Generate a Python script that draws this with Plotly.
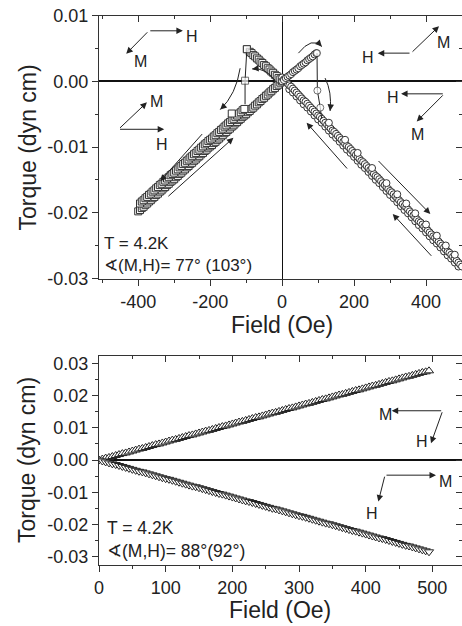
import plotly.graph_objects as go

# ---------------- data: top panel (angle 77 deg) ----------------
# squares: upper-left branch (from switching peak toward origin)
SQ_UPPER_X = [-98, -90, -85, -80, -75, -70, -65, -60, -55, -50, -45, -40, -35, -30, -25, -20, -15, -10, -5, 0]
SQ_UPPER_Y = [0.0049, 0.0045, 0.0043, 0.0040, 0.0038, 0.0035, 0.0033, 0.0030, 0.0028, 0.0025,
              0.0023, 0.0020, 0.0018, 0.0015, 0.0013, 0.0010, 0.0008, 0.0005, 0.0003, 0.0000]
# squares: lower-left band, row 1
SQ_LOW_X = [-400, -395, -390, -385, -380, -375, -370, -365, -360, -355, -350, -345, -340, -335, -330,
            -325, -320, -315, -310, -305, -300, -295, -290, -285, -280, -275, -270, -265, -260, -255,
            -250, -245, -240, -235, -230, -225, -220, -215, -210, -205, -200, -195, -190, -185, -180,
            -175, -170, -165, -160, -155, -150, -145, -140, -135, -130, -125, -120, -115, -110, -105,
            -100, -95, -90, -85, -80, -75, -70, -65, -60, -55, -50, -45, -40, -35, -30, -25, -20, -15,
            -10, -5]
SQ_LOW_Y = [-0.0198, -0.0196, -0.0193, -0.0191, -0.0188, -0.0186, -0.0183, -0.0181, -0.0178, -0.0176,
            -0.0173, -0.0171, -0.0168, -0.0166, -0.0163, -0.0161, -0.0158, -0.0156, -0.0153, -0.0151,
            -0.0149, -0.0146, -0.0144, -0.0141, -0.0139, -0.0136, -0.0134, -0.0131, -0.0129, -0.0126,
            -0.0124, -0.0121, -0.0119, -0.0116, -0.0114, -0.0111, -0.0109, -0.0106, -0.0104, -0.0101,
            -0.0099, -0.0097, -0.0094, -0.0092, -0.0089, -0.0087, -0.0084, -0.0082, -0.0079, -0.0077,
            -0.0074, -0.0072, -0.0069, -0.0067, -0.0064, -0.0062, -0.0059, -0.0057, -0.0054, -0.0052,
            -0.0050, -0.0047, -0.0045, -0.0042, -0.0040, -0.0037, -0.0035, -0.0032, -0.0030, -0.0027,
            -0.0025, -0.0022, -0.0020, -0.0017, -0.0015, -0.0012, -0.0010, -0.0007, -0.0005, -0.0002]
# squares: lower-left band, row 2 (return sweep)
SQ_MID_X = [-395, -390, -385, -380, -375, -370, -365, -360, -355, -350, -345, -340, -335, -330, -325,
            -320, -315, -310, -305, -300, -295, -290, -285, -280, -275, -270, -265, -260, -255, -250,
            -245, -240, -235, -230, -225, -220, -215, -210, -205, -200, -195, -190, -185, -180, -175,
            -170, -165, -160, -155, -150, -145, -140, -135, -130, -125, -120, -115, -110, -105]
SQ_MID_Y = [-0.0186, -0.0183, -0.0181, -0.0178, -0.0176, -0.0173, -0.0171, -0.0168, -0.0166, -0.0163,
            -0.0161, -0.0158, -0.0156, -0.0153, -0.0151, -0.0148, -0.0146, -0.0143, -0.0141, -0.0139,
            -0.0136, -0.0134, -0.0131, -0.0129, -0.0126, -0.0124, -0.0121, -0.0119, -0.0116, -0.0114,
            -0.0111, -0.0109, -0.0106, -0.0104, -0.0101, -0.0099, -0.0096, -0.0094, -0.0091, -0.0089,
            -0.0087, -0.0084, -0.0082, -0.0079, -0.0077, -0.0074, -0.0072, -0.0069, -0.0067, -0.0064,
            -0.0062, -0.0059, -0.0057, -0.0054, -0.0052, -0.0049, -0.0047, -0.0044, -0.0042]
# squares: switching jump and isolated point
SQ_JUMP_X = [-98, -103, -103]
SQ_JUMP_Y = [0.0049, 0.0001, -0.0035]
SQ_EXTRA_X = [-140]
SQ_EXTRA_Y = [-0.0049]

# circles: upper-right short branch
CI_UP_X = [0, 5, 10, 15, 20, 25, 30, 35, 40, 45, 50, 55, 60, 65, 70, 75, 80, 85, 90, 95]
CI_UP_Y = [0.0000, 0.0002, 0.0005, 0.0007, 0.0009, 0.0011, 0.0014, 0.0016, 0.0018, 0.0020,
           0.0023, 0.0025, 0.0027, 0.0029, 0.0032, 0.0034, 0.0036, 0.0038, 0.0041, 0.0043]
# circles: main descending band
CI_MAIN_X = [0, 5, 10, 15, 20, 25, 30, 35, 40, 45, 50, 55, 60, 65, 70, 75, 80, 85, 90, 95, 100,
             105, 110, 115, 120, 125, 130, 135, 140, 145, 150, 155, 160, 165, 170, 175, 180, 185,
             190, 195, 200, 205, 210, 215, 220, 225, 230, 235, 240, 245, 250, 255, 260, 265, 270,
             275, 280, 285, 290, 295, 300, 305, 310, 315, 320, 325, 330, 335, 340, 345, 350, 355,
             360, 365, 370, 375, 380, 385, 390, 395, 400, 405, 410, 415, 420, 425, 430, 435, 440,
             445, 450, 455, 460, 465, 470, 475, 480, 485, 490, 495, 500]
CI_MAIN_Y = [0.0006, 0.0003, 0.0000, -0.0003, -0.0006, -0.0008, -0.0011, -0.0014, -0.0017, -0.0020,
             -0.0023, -0.0026, -0.0029, -0.0031, -0.0034, -0.0037, -0.0040, -0.0043, -0.0046, -0.0049,
             -0.0052, -0.0054, -0.0057, -0.0060, -0.0063, -0.0066, -0.0069, -0.0072, -0.0075, -0.0077,
             -0.0080, -0.0083, -0.0086, -0.0089, -0.0092, -0.0095, -0.0098, -0.0100, -0.0103, -0.0106,
             -0.0109, -0.0112, -0.0115, -0.0118, -0.0121, -0.0123, -0.0126, -0.0129, -0.0132, -0.0135,
             -0.0138, -0.0141, -0.0144, -0.0146, -0.0149, -0.0152, -0.0155, -0.0158, -0.0161, -0.0164,
             -0.0167, -0.0169, -0.0172, -0.0175, -0.0178, -0.0181, -0.0184, -0.0187, -0.0190, -0.0192,
             -0.0195, -0.0198, -0.0201, -0.0204, -0.0207, -0.0210, -0.0213, -0.0215, -0.0218, -0.0221,
             -0.0224, -0.0227, -0.0230, -0.0233, -0.0236, -0.0238, -0.0241, -0.0244, -0.0247, -0.0250,
             -0.0253, -0.0256, -0.0259, -0.0261, -0.0264, -0.0267, -0.0270, -0.0273, -0.0276, -0.0279,
             -0.0282]
# circles: second sweep row, just below the main band
CI_LOW_X = [20, 30, 40, 50, 60, 70, 80, 90, 100, 110, 120, 130, 140, 150, 160, 170, 180, 190, 200,
            210, 220, 230, 240, 250, 260, 270, 280, 290, 300, 310, 320, 330, 340, 350, 360, 370, 380,
            390, 400, 410, 420, 430, 440, 450, 460, 470, 480, 490]
CI_LOW_Y = [-0.0012, -0.0017, -0.0023, -0.0029, -0.0035, -0.0040, -0.0046, -0.0052, -0.0058, -0.0063,
            -0.0069, -0.0075, -0.0081, -0.0086, -0.0092, -0.0098, -0.0104, -0.0109, -0.0115, -0.0121,
            -0.0127, -0.0132, -0.0138, -0.0144, -0.0150, -0.0155, -0.0161, -0.0167, -0.0173, -0.0178,
            -0.0184, -0.0190, -0.0196, -0.0201, -0.0207, -0.0213, -0.0219, -0.0224, -0.0230, -0.0236,
            -0.0242, -0.0247, -0.0253, -0.0259, -0.0265, -0.0270, -0.0276, -0.0282]
# circles: scattered points slightly above the band
CI_OUT_X = [130, 175, 210, 250, 290, 320, 345, 370, 400, 430, 455, 480]
CI_OUT_Y = [-0.0063, -0.0089, -0.0109, -0.0132, -0.0155, -0.0172, -0.0186, -0.0201, -0.0218, -0.0235,
            -0.0250, -0.0264]
# circles: switching jump
CI_JUMP_X = [97, 98, 106, 110]
CI_JUMP_Y = [0.0043, -0.0014, -0.0040, -0.0057]

# ---------------- data: bottom panel (angle 88 deg) ----------------
FIELD_B = list(range(0, 500, 5))
TQ_POS = [0.0000, 0.0003, 0.0006, 0.0008, 0.0011, 0.0014, 0.0017, 0.0020, 0.0022, 0.0025,
          0.0028, 0.0031, 0.0034, 0.0036, 0.0039, 0.0042, 0.0045, 0.0048, 0.0050, 0.0053,
          0.0056, 0.0059, 0.0062, 0.0064, 0.0067, 0.0070, 0.0073, 0.0076, 0.0078, 0.0081,
          0.0084, 0.0087, 0.0090, 0.0092, 0.0095, 0.0098, 0.0101, 0.0104, 0.0106, 0.0109,
          0.0112, 0.0115, 0.0118, 0.0120, 0.0123, 0.0126, 0.0129, 0.0132, 0.0134, 0.0137,
          0.0140, 0.0143, 0.0146, 0.0148, 0.0151, 0.0154, 0.0157, 0.0160, 0.0162, 0.0165,
          0.0168, 0.0171, 0.0174, 0.0176, 0.0179, 0.0182, 0.0185, 0.0188, 0.0190, 0.0193,
          0.0196, 0.0199, 0.0202, 0.0204, 0.0207, 0.0210, 0.0213, 0.0216, 0.0218, 0.0221,
          0.0224, 0.0227, 0.0230, 0.0232, 0.0235, 0.0238, 0.0241, 0.0244, 0.0246, 0.0249,
          0.0252, 0.0255, 0.0258, 0.0260, 0.0263, 0.0266, 0.0269, 0.0272, 0.0274, 0.0277]
TQ_NEG = [0.0000, -0.0003, -0.0006, -0.0009, -0.0012, -0.0014, -0.0017, -0.0020, -0.0023, -0.0026,
          -0.0029, -0.0032, -0.0035, -0.0037, -0.0040, -0.0043, -0.0046, -0.0049, -0.0052, -0.0055,
          -0.0058, -0.0060, -0.0063, -0.0066, -0.0069, -0.0072, -0.0075, -0.0078, -0.0081, -0.0083,
          -0.0086, -0.0089, -0.0092, -0.0095, -0.0098, -0.0101, -0.0104, -0.0106, -0.0109, -0.0112,
          -0.0115, -0.0118, -0.0121, -0.0124, -0.0127, -0.0129, -0.0132, -0.0135, -0.0138, -0.0141,
          -0.0144, -0.0147, -0.0150, -0.0152, -0.0155, -0.0158, -0.0161, -0.0164, -0.0167, -0.0170,
          -0.0173, -0.0175, -0.0178, -0.0181, -0.0184, -0.0187, -0.0190, -0.0193, -0.0196, -0.0198,
          -0.0201, -0.0204, -0.0207, -0.0210, -0.0213, -0.0216, -0.0219, -0.0221, -0.0224, -0.0227,
          -0.0230, -0.0233, -0.0236, -0.0239, -0.0242, -0.0244, -0.0247, -0.0250, -0.0253, -0.0256,
          -0.0259, -0.0262, -0.0265, -0.0267, -0.0270, -0.0273, -0.0276, -0.0279, -0.0282, -0.0285]

# ---------------- tick labels ----------------
TOP_X_TICKS = [-400, -200, 0, 200, 400]
TOP_X_LABELS = ["-400", "-200", "0", "200", "400"]
TOP_Y_TICKS = [-0.03, -0.02, -0.01, 0.0, 0.01]
TOP_Y_LABELS = ["-0.03", "-0.02", "-0.01", "0.00", "0.01"]
BOT_X_TICKS = [0, 100, 200, 300, 400, 500]
BOT_X_LABELS = ["0", "100", "200", "300", "400", "500"]
BOT_Y_TICKS = [-0.03, -0.02, -0.01, 0.0, 0.01, 0.02, 0.03]
BOT_Y_LABELS = ["-0.03", "-0.02", "-0.01", "0.00", "0.01", "0.02", "0.03"]

FONT = "Liberation Sans, Arial, Helvetica, sans-serif"
INK = "#222222"
EDGE = "#333333"

fig = go.Figure()


def band(x, y, symbol, size, xa, ya, edge=EDGE):
    fig.add_trace(go.Scatter(
        x=x, y=y, mode="markers", xaxis=xa, yaxis=ya, showlegend=False,
        marker=dict(symbol=symbol, size=size, color="white",
                    line=dict(color=edge, width=1))))


band(SQ_LOW_X, SQ_LOW_Y, "square", 7, "x", "y")
band(SQ_MID_X, SQ_MID_Y, "square", 7, "x", "y")
band(SQ_UPPER_X, SQ_UPPER_Y, "square", 7, "x", "y")
band(SQ_EXTRA_X, SQ_EXTRA_Y, "square", 7, "x", "y")
band(CI_LOW_X, CI_LOW_Y, "circle", 7, "x", "y")
band(CI_MAIN_X, CI_MAIN_Y, "circle", 7, "x", "y")
band(CI_OUT_X, CI_OUT_Y, "circle", 7, "x", "y")
band(CI_UP_X, CI_UP_Y, "circle", 7, "x", "y")

fig.add_trace(go.Scatter(x=SQ_JUMP_X, y=SQ_JUMP_Y, mode="lines+markers", xaxis="x", yaxis="y",
                         showlegend=False, line=dict(color=INK, width=1),
                         marker=dict(symbol="square", size=[7, 7, 0], color="white",
                                     line=dict(color=EDGE, width=1))))
fig.add_trace(go.Scatter(x=CI_JUMP_X, y=CI_JUMP_Y, mode="lines+markers", xaxis="x", yaxis="y",
                         showlegend=False, line=dict(color=INK, width=1),
                         marker=dict(symbol="circle", size=[7, 7, 7, 0], color="white",
                                     line=dict(color=EDGE, width=1))))

band(FIELD_B, TQ_POS, "triangle-up", 8, "x2", "y2", edge="#222")
band(FIELD_B, TQ_NEG, "triangle-down", 8, "x2", "y2", edge="#222")

# ---------------- axes ----------------
tickfont = dict(family=FONT, size=18, color=INK)
base = dict(showgrid=False, showline=True, linecolor="#333", linewidth=1.3,
            ticks="outside", ticklen=6, tickwidth=1.2, tickcolor="#333",
            tickfont=tickfont, tickmode="array", automargin=False)

XDOM = [99 / 462, 1.0]
TOP_YDOM = [1 - 279 / 626, 1 - 15.7 / 626]
BOT_YDOM = [1 - 565 / 626, 1 - 355.7 / 626]
TOP_XR = [-509, 500]
TOP_YR = [-0.0301, 0.01]
BOT_XR = [0, 544.5]
BOT_YR = [-0.0326, 0.0324]

TOP_X_MINOR = [-500, -300, -100, 100, 300, 500]
TOP_Y_MINOR = [-0.025, -0.015, -0.005, 0.005]
BOT_X_MINOR = [50, 150, 250, 350, 450]
BOT_Y_MINOR = [-0.025, -0.015, -0.005, 0.005, 0.015, 0.025]


def minor(vals, inside=False):
    return dict(tickvals=vals, ticklen=3, tickwidth=1.2, tickcolor="#333",
                ticks="inside" if inside else "outside")


def mirror_axis(over, side, anchor, rng, vals, mvals, line):
    return dict(overlaying=over, side=side, anchor=anchor, range=rng, showgrid=False,
                showline=line, linecolor="#333", linewidth=1.3, ticks="inside", ticklen=6,
                tickwidth=1.2, tickcolor="#333", tickmode="array", tickvals=vals,
                showticklabels=False, zeroline=False, automargin=False,
                minor=minor(mvals, True))


fig.update_layout(
    width=462, height=626, margin=dict(l=0, r=0, t=0, b=0, pad=0, autoexpand=False),
    paper_bgcolor="white", plot_bgcolor="white", showlegend=False,
    xaxis=dict(base, domain=XDOM, range=TOP_XR, anchor="y", tickvals=TOP_X_TICKS,
               ticktext=TOP_X_LABELS, minor=minor(TOP_X_MINOR), zeroline=True,
               zerolinecolor="#111", zerolinewidth=1.3),
    yaxis=dict(base, domain=TOP_YDOM, range=TOP_YR, anchor="x", tickvals=TOP_Y_TICKS,
               ticktext=TOP_Y_LABELS, minor=minor(TOP_Y_MINOR), zeroline=True,
               zerolinecolor="#111", zerolinewidth=1.6),
    xaxis3=mirror_axis("x", "top", "y", TOP_XR, TOP_X_TICKS, TOP_X_MINOR, True),
    yaxis3=mirror_axis("y", "right", "x", TOP_YR, TOP_Y_TICKS, TOP_Y_MINOR, False),
    xaxis2=dict(base, domain=XDOM, range=BOT_XR, anchor="y2", tickvals=BOT_X_TICKS,
                ticktext=BOT_X_LABELS, minor=minor(BOT_X_MINOR), zeroline=False),
    yaxis2=dict(base, domain=BOT_YDOM, range=BOT_YR, anchor="x2", tickvals=BOT_Y_TICKS,
                ticktext=BOT_Y_LABELS, minor=minor(BOT_Y_MINOR), zeroline=True,
                zerolinecolor="#111", zerolinewidth=1.6),
    xaxis4=mirror_axis("x2", "top", "y2", BOT_XR, BOT_X_TICKS, BOT_X_MINOR, True),
    yaxis4=mirror_axis("y2", "right", "x2", BOT_YR, BOT_Y_TICKS, BOT_Y_MINOR, False),
)

# invisible traces so overlay axes render
fig.add_trace(go.Scatter(x=[0], y=[0], xaxis="x3", yaxis="y3", mode="markers",
                         marker=dict(size=0, opacity=0), showlegend=False, hoverinfo="skip"))
fig.add_trace(go.Scatter(x=[0], y=[0], xaxis="x4", yaxis="y4", mode="markers",
                         marker=dict(size=0, opacity=0), showlegend=False, hoverinfo="skip"))

# ---------------- annotations ----------------
ann = []


def label(text, x, y, xr, yr, size=16, xanchor="center"):
    ann.append(dict(text=text, x=x, y=y, xref=xr, yref=yr, showarrow=False,
                    xanchor=xanchor, yanchor="middle", align="left",
                    font=dict(family=FONT, size=size, color=INK)))


def arrow(tail, head, xr, yr):
    ann.append(dict(text="", x=head[0], y=head[1], ax=tail[0], ay=tail[1],
                    xref=xr, yref=yr, axref=xr, ayref=yr, showarrow=True,
                    arrowhead=2, arrowsize=1.3, arrowwidth=1, arrowcolor=INK))


shapes = []


def curve(p0, c, p1, xr, yr):
    shapes.append(dict(type="path", xref=xr, yref=yr,
                       path=f"M {p0[0]},{p0[1]} Q {c[0]},{c[1]} {p1[0]},{p1[1]}",
                       line=dict(color=INK, width=1)))
    tail = (p1[0] + 0.35 * (c[0] - p1[0]), p1[1] + 0.35 * (c[1] - p1[1]))
    arrow(tail, p1, xr, yr)


# top panel: M / H vector sketches
arrow((-370.6, 0.0077), (-275.8, 0.0077), "x", "y")
arrow((-370.6, 0.0077), (-433.3, 0.0042), "x", "y")
label("H", -250.8, 0.0069, "x", "y")
label("M", -394.4, 0.0031, "x", "y")

arrow((-454.7, -0.0073), (-375.8, -0.0032), "x", "y")
arrow((-454.7, -0.0073), (-327.8, -0.0073), "x", "y")
label("M", -348, -0.0030, "x", "y")
label("H", -334, -0.0096, "x", "y")

arrow((358.3, 0.0043), (436.1, 0.0084), "x", "y")
arrow((358.3, 0.0043), (265.8, 0.0043), "x", "y")
label("M", 447.2, 0.0059, "x", "y")
label("H", 238.9, 0.0036, "x", "y")

arrow((450.8, -0.0019), (330.6, -0.0019), "x", "y")
arrow((450.8, -0.0019), (374.2, -0.0061), "x", "y")
label("H", 307.5, -0.0024, "x", "y")
label("M", 377, -0.0081, "x", "y")

# top panel: sweep direction arrows
arrow((-218.6, -0.0078), (-338.9, -0.0152), "x", "y")
arrow((-320.3, -0.0177), (-135.3, -0.0086), "x", "y")
arrow((184.2, -0.0135), (68.1, -0.0063), "x", "y")
arrow((263.9, -0.0119), (411.9, -0.0202), "x", "y")
arrow((418.6, -0.0268), (307.5, -0.0202), "x", "y")

curve((45.3, 0.0043), (83.3, 0.0069), (110.3, 0.0053), "x", "y")
curve((119.4, 0.0005), (139.0, -0.0016), (133.3, -0.0045), "x", "y")
curve((-19.4, 0.0001), (-44.4, 0.0021), (-83.3, 0.0019), "x", "y")
curve((-116.7, 0.0020), (-127.8, -0.0020), (-172.0, -0.0043), "x", "y")

label("T = 4.2K<br>∢(M,H)= 77° (103°)", -501, -0.0263, "x", "y", size=17, xanchor="left")

# bottom panel
arrow((515.5, 0.0153), (439, 0.0153), "x2", "y2")
arrow((515.5, 0.0153), (498, 0.0052), "x2", "y2")
label("M", 429, 0.0140, "x2", "y2")
label("H", 484, 0.0057, "x2", "y2")

arrow((429, -0.0047), (505.5, -0.0047), "x2", "y2")
arrow((429, -0.0047), (419, -0.0129), "x2", "y2")
label("M", 519, -0.0067, "x2", "y2")
label("H", 409, -0.0165, "x2", "y2")

label("T = 4.2K<br>∢(M,H)= 88°(92°)", 9, -0.0248, "x2", "y2", size=17.5, xanchor="left")

# axis titles
for yc in (1 - 147.5 / 626, 1 - 460 / 626):
    ann.append(dict(text="Torque (dyn cm)", x=27 / 462, y=yc, xref="paper", yref="paper",
                    showarrow=False, textangle=-90, xanchor="center", yanchor="middle",
                    font=dict(family=FONT, size=23, color=INK)))
for xc, yc in ((282 / 462, 1 - 325 / 626), (280 / 462, 1 - 610 / 626)):
    ann.append(dict(text="Field (Oe)", x=xc, y=yc, xref="paper", yref="paper",
                    showarrow=False, xanchor="center", yanchor="middle",
                    font=dict(family=FONT, size=23, color=INK)))

fig.update_layout(annotations=ann, shapes=shapes)
fig.write_html("out.html", config={"displayModeBar": False},
               post_script="document.body.style.margin='0';document.body.style.overflow='hidden';")
